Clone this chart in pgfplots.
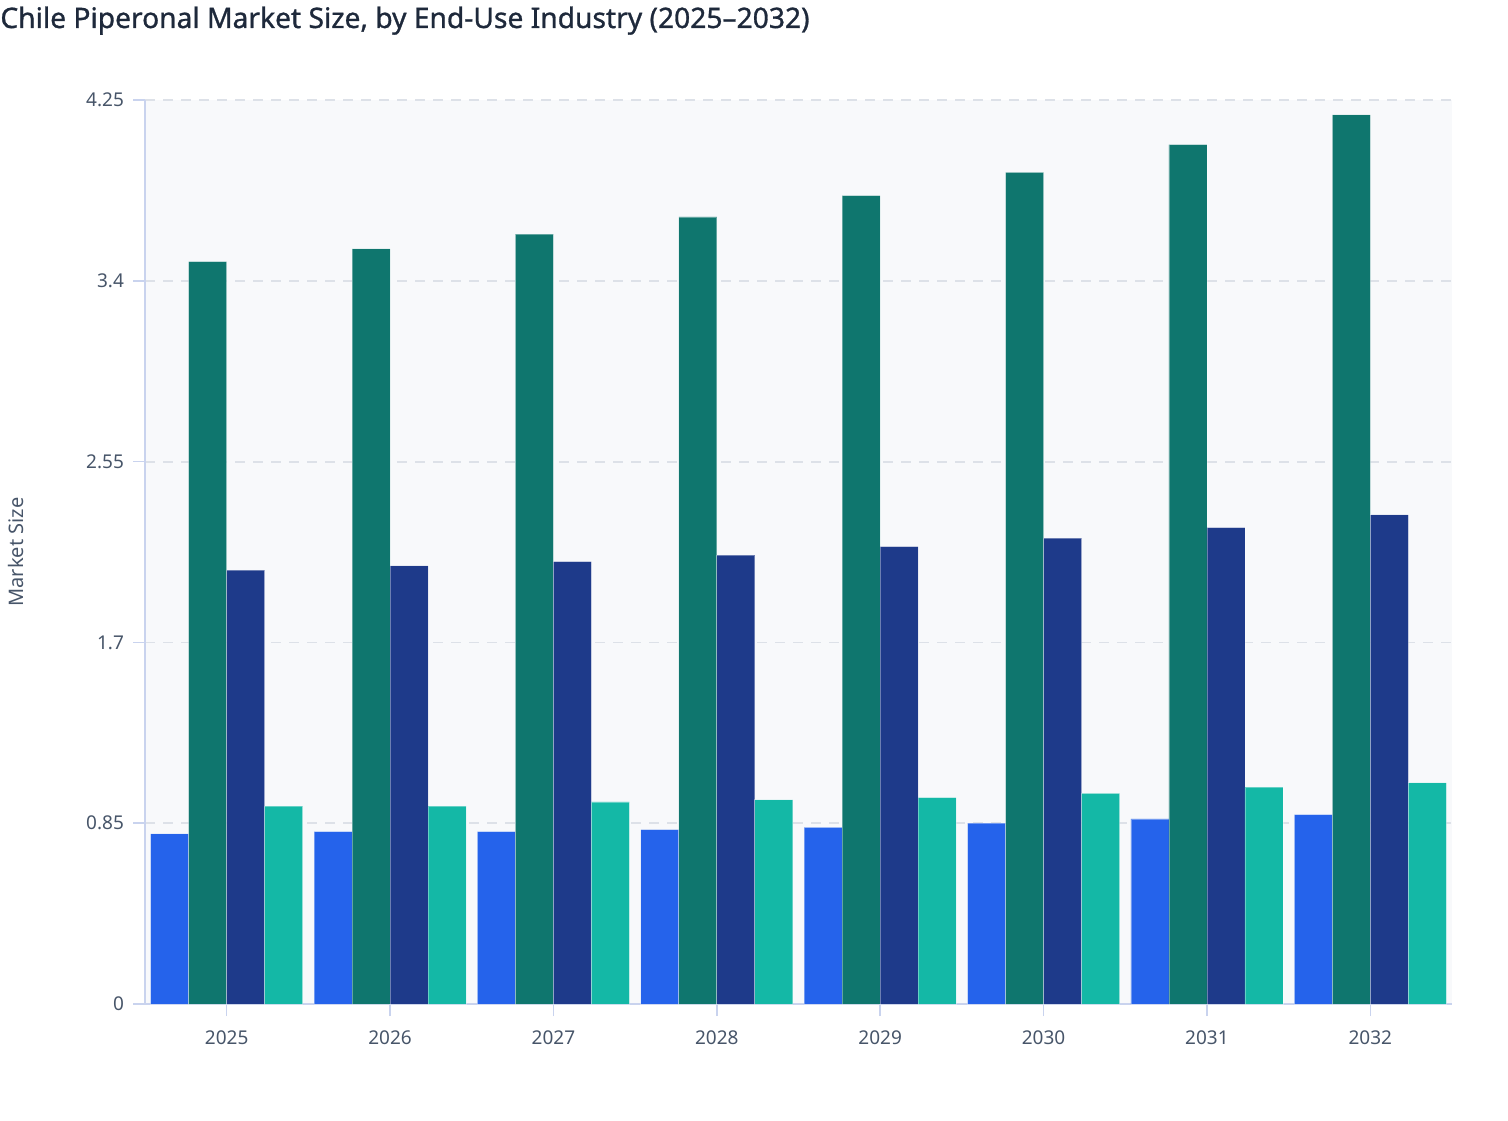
\documentclass[border=0pt]{standalone}
\usepackage{pgfplots}
\pgfplotsset{compat=1.18}
\usepackage{fontspec}
\setmainfont{Noto Sans}

\definecolor{cBlue}{HTML}{2563EB}
\definecolor{cDeep}{HTML}{0F766E}
\definecolor{cNavy}{HTML}{1E3A8A}
\definecolor{cTeal}{HTML}{14B8A6}
\definecolor{titlec}{HTML}{1E293B}
\definecolor{labelc}{HTML}{475569}
\definecolor{axisc}{HTML}{C9D3EE}
\definecolor{gridc}{HTML}{DDE1E8}
\definecolor{bgc}{HTML}{F8F9FB}

\begin{document}
\begin{tikzpicture}[x=1pt,y=1pt]
\path[use as bounding box] (0,0) rectangle (754,560);
\node[anchor=base west, inner sep=0, text=titlec,
      font=\fontsize{14.1}{16}\selectfont\addfontfeatures{FakeBold=1}] at (0,546)
      {Chile Piperonal Market Size, by End-Use Industry (2025–2032)};
\node[rotate=90, text=labelc, font=\fontsize{10}{12}\selectfont] at (8,284) {Market Size};
\begin{axis}[
    at={(72.5pt,58pt)}, anchor=south west,
    scale only axis, width=653.5pt, height=452pt,
    ybar=0pt, bar width=19pt,
    xmin=-0.5, xmax=7.5,
    ymin=0, ymax=4.25,
    xtick={0,...,7},
    xticklabels={2025,2026,2027,2028,2029,2030,2031,2032},
    ytick={0,0.85,1.7,2.55,3.4,4.25},
    yticklabels={0,0.85,1.7,2.55,3.4,4.25},
    axis lines=left, axis line style={-, draw=axisc, line width=0.8pt},
    tick align=outside, major tick length=6pt,
    tick style={draw=axisc, line width=0.8pt},
    ymajorgrids, grid style={draw=gridc, line width=0.9pt, dash pattern=on 5pt off 4pt},
    axis background/.style={fill=bgc},
    ticklabel style={text=labelc, font=\fontsize{9.5}{11}\selectfont},
    /pgf/number format/assume math mode=true,
    xticklabel style={yshift=-4pt},
    yticklabel style={xshift=-1pt},
    every axis plot/.append style={draw=white, draw opacity=0.35, line width=0.4pt},
    clip=false,
]
\addplot[fill=cBlue] coordinates {(0,0.80) (1,0.81) (2,0.81) (3,0.82) (4,0.83) (5,0.85) (6,0.87) (7,0.89)};
\addplot[fill=cDeep] coordinates {(0,3.49) (1,3.55) (2,3.62) (3,3.70) (4,3.80) (5,3.91) (6,4.04) (7,4.18)};
\addplot[fill=cNavy] coordinates {(0,2.04) (1,2.06) (2,2.08) (3,2.11) (4,2.15) (5,2.19) (6,2.24) (7,2.30)};
\addplot[fill=cTeal] coordinates {(0,0.93) (1,0.93) (2,0.95) (3,0.96) (4,0.97) (5,0.99) (6,1.02) (7,1.04)};
\end{axis}
\end{tikzpicture}
\end{document}
